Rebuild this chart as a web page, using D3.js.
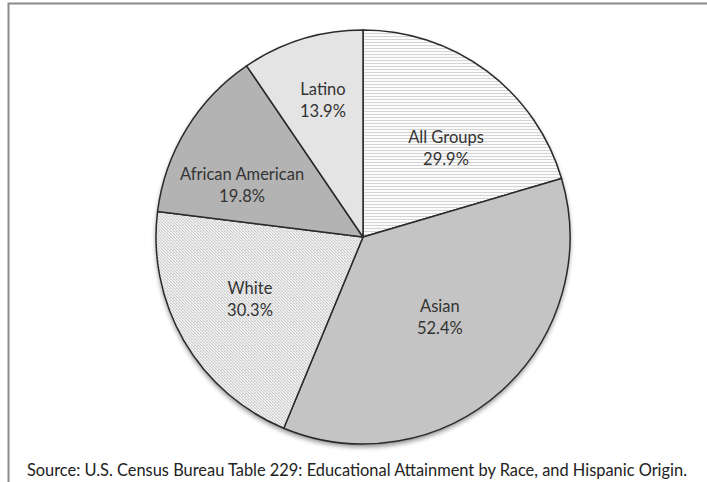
<!DOCTYPE html>
<html><head><meta charset="utf-8">
<script src="https://cdn.jsdelivr.net/npm/d3@7"></script>
<style>
html,body{margin:0;padding:0;background:#fff;}
svg{display:block;}
text{font-family:Lato,"Open Sans",sans-serif;}
</style></head>
<body>
<script>
const categories = ["All Groups", "Asian", "White", "African American", "Latino"];
const values = [29.9, 52.4, 30.3, 19.8, 13.9];
const labels = ["29.9%", "52.4%", "30.3%", "19.8%", "13.9%"];
const source = "Source: U.S. Census Bureau Table 229: Educational Attainment by Race, and Hispanic Origin.";

const W = 707, H = 482;
const cx = 363, cy = 237, R = 207;
const fills = ["url(#hlines)", "url(#asianGrad)", "url(#diag)", "#b3b3b3", "#e4e4e4"];
// label placement (layout only): radius fraction and angle offset in degrees
const labelR = [0.588, 0.536, 0.623, 0.636, 0.689];
const labelDA = [6.2, -1.9, 1.4, -8.2, 0.8];

const svg = d3.select("body").append("svg").attr("width", W).attr("height", H);
const defs = svg.append("defs");

const hp = defs.append("pattern").attr("id","hlines").attr("patternUnits","userSpaceOnUse").attr("width",4).attr("height",3);
hp.append("rect").attr("width",4).attr("height",3).attr("fill","#fbfbfb");
hp.append("rect").attr("width",4).attr("height",1).attr("fill","#d4d4d4");

const dp = defs.append("pattern").attr("id","diag").attr("patternUnits","userSpaceOnUse").attr("width",3).attr("height",3);
dp.append("rect").attr("width",3).attr("height",3).attr("fill","#efefef");
dp.append("path").attr("d","M0,0 L3,3").attr("stroke","#c8c8c8").attr("stroke-width",0.9);
dp.append("rect").attr("x",2).attr("y",0).attr("width",1).attr("height",1).attr("fill","#dedede");

const g1 = defs.append("radialGradient").attr("id","asianGrad")
  .attr("gradientUnits","userSpaceOnUse").attr("cx",cx).attr("cy",cy).attr("r",R);
g1.append("stop").attr("offset","0.9").attr("stop-color","#d2d2d2");
g1.append("stop").attr("offset","1").attr("stop-color","#c4c4c4");

const f = defs.append("filter").attr("id","shadow").attr("x","-10%").attr("y","-10%").attr("width","120%").attr("height","125%");
f.append("feGaussianBlur").attr("in","SourceAlpha").attr("stdDeviation",2.5);
f.append("feOffset").attr("dx",0).attr("dy",3).attr("result","ob");
f.append("feComponentTransfer").append("feFuncA").attr("type","linear").attr("slope",0.45);
const fm = f.append("feMerge");
fm.append("feMergeNode");
fm.append("feMergeNode").attr("in","SourceGraphic");

// frame
svg.append("path").attr("d", `M8.5,${H} L8.5,3.5 L${W},3.5`).attr("fill","none").attr("stroke","#8a8a8a").attr("stroke-width",2);

const pie = d3.pie().sort(null).value(d => d);
const arcs = pie(values);
const arc = d3.arc().innerRadius(0).outerRadius(R);

const g = svg.append("g").attr("transform", `translate(${cx},${cy})`);
g.append("circle").attr("r", R).attr("fill","#ccc").attr("filter","url(#shadow)");
g.selectAll("path.slice").data(arcs).join("path").attr("class","slice")
  .attr("d", arc).attr("fill", (d,i) => fills[i])
  .attr("stroke","#2a2a2a").attr("stroke-width",1.5).attr("stroke-linejoin","round");

const lab = g.selectAll("g.lab").data(arcs).join("g").attr("class","lab")
  .attr("transform", (d,i) => {
    const a = (d.startAngle + d.endAngle) / 2 + labelDA[i] * Math.PI / 180;
    const la = d3.arc().innerRadius(R*labelR[i]).outerRadius(R*labelR[i]);
    const [x,y] = la.centroid({startAngle: a, endAngle: a});
    return `translate(${x},${y})`;
  });
lab.append("text").attr("text-anchor","middle").attr("y",-5).attr("font-size",16.5).attr("fill","#333")
  .text((d,i) => categories[i]);
lab.append("text").attr("text-anchor","middle").attr("y",17).attr("font-size",16.5).attr("fill","#333")
  .text((d,i) => labels[i]);

svg.append("text").attr("x", 357).attr("y", 476).attr("text-anchor","middle")
  .attr("font-size",16.4).attr("fill","#222").text(source);
</script>
</body></html>
